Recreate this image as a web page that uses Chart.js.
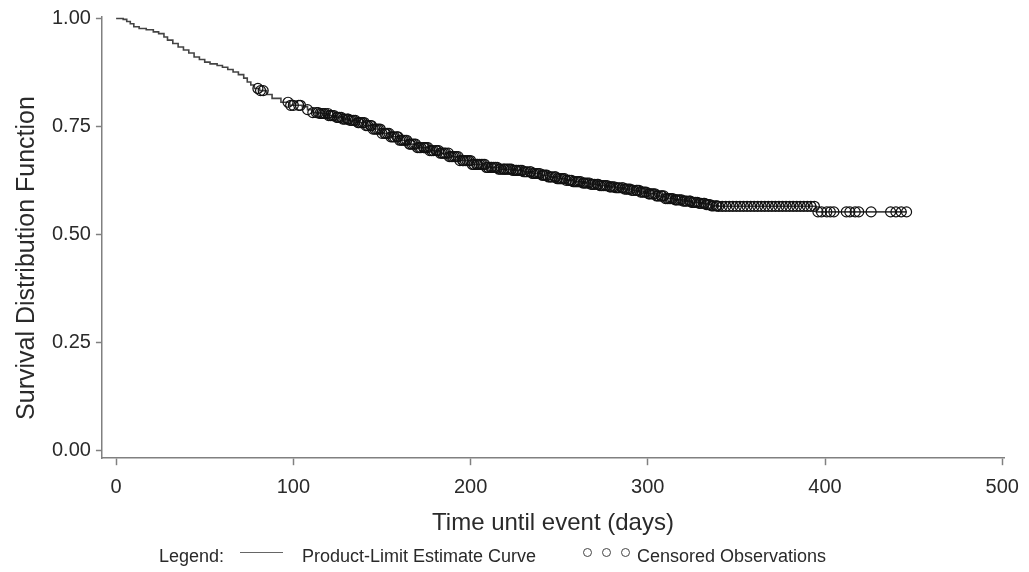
<!DOCTYPE html>
<html>
<head>
<meta charset="utf-8">
<script src="https://cdn.jsdelivr.net/npm/chart.js@4"></script>
<style>
  body { margin: 0; background: #fff; }
  #wrap { position: relative; width: 1029px; height: 572px; font-family: "Liberation Sans", Arial, sans-serif; color: #2a2a2a; }
  #legend { position: absolute; left: 0; top: 0; width: 1029px; height: 572px; font-size: 18px; line-height: 18px; pointer-events: none; }
  #legend span { position: absolute; top: 547px; white-space: nowrap; }
  .swatch { position: absolute; top: 552px; height: 0; border-top: 1.5px solid #666; }
  .dot { position: absolute; top: 548px; width: 7px; height: 7px; border: 1px solid #444; border-radius: 50%; }
  #ytitle { position: absolute; left: -175px; top: 243px; width: 400px; height: 30px; line-height: 30px; text-align: center;
    font-size: 25px; transform: rotate(-90deg); transform-origin: 200px 15px; white-space: nowrap; }
</style>
</head>
<body>
<div id="wrap">
  <canvas id="myChart" width="1029" height="572"></canvas>
  <div id="ytitle">Survival Distribution Function</div>
  <div id="legend">
    <span style="left:159px">Legend:</span>
    <div class="swatch" style="left:240px;width:43px"></div>
    <span style="left:302px">Product-Limit Estimate Curve</span>
    <div class="dot" style="left:583px"></div>
    <div class="dot" style="left:602px"></div>
    <div class="dot" style="left:621px"></div>
    <span style="left:637px">Censored Observations</span>
  </div>
</div>
<script>
// Kaplan-Meier curve (step points)
var survTime = [0, 4, 6, 8, 10, 13, 17, 21, 24, 27, 29, 32, 35, 38, 41, 44, 47, 50, 53, 57, 60, 63, 66, 69,
  72, 74, 76, 78, 81, 85, 88, 93, 98, 105, 108, 111, 115, 120, 124, 128, 132, 136, 141, 145, 150, 155, 160,
  165, 170, 177, 183, 188, 194, 201, 209, 216, 224, 230, 235, 240, 244, 249, 254, 258, 263, 268, 273, 278,
  282, 287, 291, 296, 300, 305, 310, 315, 320, 325, 329, 333, 336, 340, 395, 446];
var survProb = [1, 0.998, 0.993, 0.988, 0.981, 0.977, 0.974, 0.969, 0.965, 0.957, 0.950, 0.942, 0.934, 0.927,
  0.920, 0.911, 0.905, 0.899, 0.895, 0.891, 0.887, 0.882, 0.876, 0.870, 0.862, 0.853, 0.846, 0.838, 0.833,
  0.824, 0.815, 0.806, 0.799, 0.796, 0.789, 0.782, 0.780, 0.775, 0.771, 0.767, 0.764, 0.759, 0.752, 0.744,
  0.734, 0.726, 0.718, 0.709, 0.701, 0.694, 0.688, 0.680, 0.671, 0.662, 0.655, 0.651, 0.648, 0.645, 0.641,
  0.637, 0.633, 0.629, 0.625, 0.622, 0.619, 0.616, 0.613, 0.610, 0.608, 0.605, 0.602, 0.598, 0.594, 0.589,
  0.583, 0.580, 0.577, 0.574, 0.572, 0.569, 0.566, 0.565, 0.552, 0.552];

// censored observation times
var censTime = [80, 81.5, 83, 97, 98.5, 100, 103, 104, 108, 111, 113, 114,
  115, 116, 117, 118, 119.5, 120, 121, 122, 123, 124.5, 125, 126, 127, 128, 129, 130.5, 131, 132, 133, 134,
  135, 136.5, 137, 138, 139, 140, 141, 142, 143.5, 144, 145, 146, 147, 148, 149, 150, 151.5, 152, 153, 154,
  155, 156, 157, 158.5, 159, 160, 161, 162, 163, 164, 165.5, 166, 167, 168, 169, 170, 171, 172, 173.5, 174,
  175, 176, 177, 178, 179, 180.5, 181, 182, 183, 184, 185, 186, 187.5, 188, 189, 190, 191, 192, 193, 194,
  195.5, 196, 197, 198, 199, 200, 201, 202, 203.5, 204, 205, 206, 207, 208, 209, 210, 211.5, 212, 213, 214,
  215, 216, 217, 218.5, 219, 220, 221, 222, 223, 224, 225.5, 226, 227, 228, 229, 230, 231, 232, 233.5, 234,
  235, 236, 237, 238, 239, 240.5, 241, 242, 243, 244, 245, 246, 247.5, 248, 249, 250, 251, 252, 253, 254,
  255.5, 256, 257, 258, 259, 260, 261, 262, 263.5, 264, 265, 266, 267, 268, 269, 270, 271.5, 272, 273, 274,
  275, 276, 277, 278.5, 279, 280, 281, 282, 283, 284, 285.5, 286, 287, 288, 289, 290, 291, 292, 293.5, 294,
  295, 296, 297, 298, 299, 300.5, 301, 302, 303, 304, 305, 306, 307.5, 308, 309, 310, 311, 312, 313, 314,
  315.5, 316, 317, 318, 319, 320, 321, 322, 323.5, 324, 325, 326, 327, 328, 329, 330, 331.5, 332, 333, 334,
  335, 336, 337, 338.5, 339, 340,
  342, 344, 346, 348, 350, 352, 354, 356, 358, 360, 362, 364, 366, 368, 370, 372, 374, 376, 378, 380,
  382, 384, 386, 388, 390, 392, 394,
  396, 398, 401, 403, 405, 412, 414, 417, 419, 426, 437, 440, 443, 446];

var xTicks = [0, 100, 200, 300, 400, 500];
var yTicks = [0, 0.25, 0.5, 0.75, 1];

// survival value at time t (step lookup)
function survAt(t) {
  var s = survProb[0];
  for (var i = 0; i < survTime.length; i++) {
    if (survTime[i] <= t) s = survProb[i];
  }
  return s;
}

var curvePts = survTime.map(function (t, i) { return { x: t, y: survProb[i] }; });
var censPts = censTime.map(function (t) { return { x: t, y: survAt(t) }; });

var axisColor = '#808080';
var textColor = '#2a2a2a';
var fam = '"Liberation Sans", Arial, sans-serif';

var ctx = document.getElementById('myChart').getContext('2d');
var myChart = new Chart(ctx, {
  type: 'scatter',
  data: {
    datasets: [{
      label: 'Product-Limit Estimate Curve',
      data: curvePts,
      showLine: true,
      stepped: true,
      borderColor: '#444',
      borderWidth: 1.6,
      pointRadius: 0,
      order: 2
    },
    {
      label: 'Censored Observations',
      data: censPts,
      showLine: false,
      pointStyle: 'circle',
      pointRadius: 5,
      borderColor: '#111',
      borderWidth: 1.2,
      backgroundColor: 'rgba(0,0,0,0)',
      order: 1
    }]
  },
  options: {
    responsive: false,
    animation: false,
    layout: { padding: { left: 47, top: 17, right: 20, bottom: 26 } },
    plugins: { legend: { display: false }, tooltip: { enabled: false } },
    scales: {
      x: {
        type: 'linear',
        min: -8,
        max: 501,
        afterBuildTicks: function (scale) { scale.ticks = xTicks.map(function (v) { return { value: v }; }); },
        ticks: { color: textColor, font: { family: fam, size: 20 }, padding: 10, maxRotation: 0 },
        grid: { drawOnChartArea: false, tickLength: 7, tickColor: axisColor, tickWidth: 1.5 },
        border: { color: axisColor, width: 1.5 },
        title: { display: true, text: 'Time until event (days)', color: textColor, font: { family: fam, size: 24 }, padding: { top: 0, bottom: 8 } }
      },
      y: {
        min: -0.0185,
        max: 1.0035,
        afterBuildTicks: function (scale) { scale.ticks = yTicks.map(function (v) { return { value: v }; }); },
        ticks: { color: textColor, font: { family: fam, size: 20 }, padding: 5, callback: function (v) { return v.toFixed(2); } },
        grid: { drawOnChartArea: false, tickLength: 6, tickColor: axisColor, tickWidth: 1.5 },
        border: { color: axisColor, width: 1.5 }
      }
    }
  }
});
</script>
</body>
</html>
